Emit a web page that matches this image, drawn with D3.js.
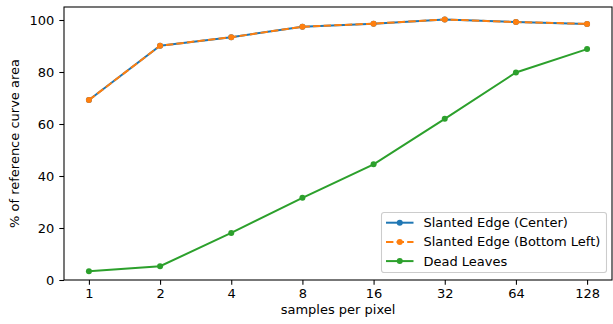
<!DOCTYPE html>
<html>
<head>
<meta charset="utf-8">
<script src="https://cdn.jsdelivr.net/npm/d3@7"></script>
<style>
  body { margin: 0; background: #fff; }
  svg text { font-family: "DejaVu Sans", sans-serif; fill: #000; }
</style>
</head>
<body>
<svg id="chart"></svg>
<script>
// samples per pixel
const samples = [1, 2, 4, 8, 16, 32, 64, 128];
const slantedCenter = [69.2, 90.1, 93.4, 97.4, 98.6, 100.2, 99.2, 98.5];
const slantedBottomLeft = [69.2, 90.1, 93.4, 97.4, 98.6, 100.2, 99.2, 98.5];
const deadLeaves = [3.4, 5.3, 18.1, 31.6, 44.5, 62.0, 79.8, 88.8];
const yTicks = [0, 20, 40, 60, 80, 100];

const seriesNames = ['Slanted Edge (Center)', 'Slanted Edge (Bottom Left)', 'Dead Leaves'];
const seriesColors = ['#1f77b4', '#ff7f0e', '#2ca02c'];

const W = 613, H = 324;
const margin = {top: 7, right: 1, bottom: 44, left: 64};
const width = W - margin.left - margin.right;
const height = H - margin.top - margin.bottom;
const fontSize = 13;

const svg = d3.select('#chart').attr('width', W).attr('height', H);
const g = svg.append('g').attr('transform', `translate(${margin.left},${margin.top})`);

// log2 x axis with matplotlib-style 5% padding
const x = d3.scaleLog().base(2)
    .domain([Math.pow(2, -0.35), Math.pow(2, 7.35)])
    .range([0, width]);
const y = d3.scaleLinear().domain([0, 105]).range([height, 0]);

// axes
const xAxis = g.append('g')
    .attr('transform', `translate(0,${height})`)
    .call(d3.axisBottom(x).tickValues(samples).tickFormat(d3.format('d')).tickSize(4.7).tickPadding(4));
const yAxis = g.append('g')
    .call(d3.axisLeft(y).tickValues(yTicks).tickSize(4.7).tickPadding(5));
[xAxis, yAxis].forEach(a => {
  a.select('.domain').remove();
  a.selectAll('text').attr('font-size', fontSize).attr('font-family', '"DejaVu Sans", sans-serif').attr('fill', '#000');
  a.selectAll('line').attr('stroke', '#000').attr('stroke-width', 1.07);
});

// frame
g.append('rect')
    .attr('width', width).attr('height', height)
    .attr('fill', 'none').attr('stroke', '#000').attr('stroke-width', 1.07);

const allSeries = [slantedCenter, slantedBottomLeft, deadLeaves];
const line = d3.line().x((d, i) => x(samples[i])).y(d => y(d));

allSeries.forEach((vals, k) => {
  g.append('path')
      .datum(vals)
      .attr('d', line)
      .attr('fill', 'none')
      .attr('stroke', seriesColors[k])
      .attr('stroke-width', 2)
      .attr('stroke-dasharray', k === 1 ? '7.4,3.2' : null);
  g.selectAll(`.dot${k}`)
      .data(vals)
    .join('circle')
      .attr('class', `dot${k}`)
      .attr('cx', (d, i) => x(samples[i]))
      .attr('cy', d => y(d))
      .attr('r', 3)
      .attr('fill', seriesColors[k]);
});

// axis labels
svg.append('text')
    .attr('x', margin.left + width / 2)
    .attr('y', 314)
    .attr('text-anchor', 'middle')
    .attr('font-size', fontSize)
    .text('samples per pixel');
svg.append('text')
    .attr('transform', `translate(18.5,${margin.top + height / 2}) rotate(-90)`)
    .attr('text-anchor', 'middle')
    .attr('font-size', fontSize)
    .text('% of reference curve area');

// legend
const legend = svg.append('g').attr('transform', 'translate(381.5,212.5)');
legend.append('rect')
    .attr('width', 225).attr('height', 60)
    .attr('rx', 2.5)
    .attr('fill', '#fff').attr('fill-opacity', 0.8)
    .attr('stroke', '#ccc').attr('stroke-width', 1.07);
seriesNames.forEach((name, k) => {
  const ly = 10.2 + k * 19.2;
  legend.append('line')
      .attr('x1', 4.5).attr('x2', 32).attr('y1', ly).attr('y2', ly)
      .attr('stroke', seriesColors[k]).attr('stroke-width', 2)
      .attr('stroke-dasharray', k === 1 ? '7.4,3.2' : null);
  legend.append('circle')
      .attr('cx', 18.25).attr('cy', ly).attr('r', 3)
      .attr('fill', seriesColors[k]);
  legend.append('text')
      .attr('x', 42).attr('y', ly)
      .attr('dy', '0.35em')
      .attr('font-size', fontSize)
      .text(name);
});
</script>
</body>
</html>
